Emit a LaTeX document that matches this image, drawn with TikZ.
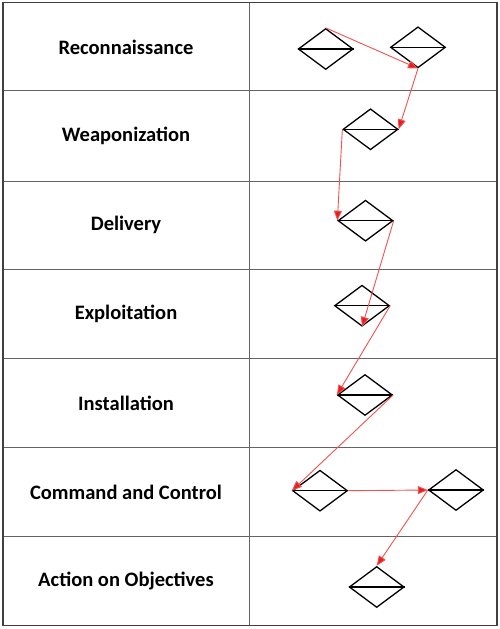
\documentclass[tikz,border=0pt]{standalone}
\usepackage{fontspec}
\setmainfont{Carlito}
\usetikzlibrary{arrows.meta,shapes.geometric}
\definecolor{arrowred}{RGB}{244,80,80}
\definecolor{tipred}{RGB}{230,30,30}
\definecolor{gridgray}{RGB}{100,100,100}
\tikzset{
  dia/.style={draw=black, line width=1.3bp, shape=diamond, inner sep=0pt, minimum width=55bp, minimum height=41bp},
  flow/.style={draw=arrowred, line width=0.9bp, -{Triangle[length=10bp,width=8bp,fill=tipred]}},
  stage/.style={font=\bfseries\fontsize{20.6}{24}\selectfont, anchor=center}
}
\begin{document}
\begin{tikzpicture}[x=1bp,y=-1bp]
\useasboundingbox (0,0) rectangle (500,629);
% grid
\foreach \yy in {91,181,269.5,358.3,447.7,536}
  \draw[gridgray, line width=1bp] (3,\yy) -- (497,\yy);
\draw[gridgray, line width=1bp] (249.5,2.7) -- (249.5,625.7);
\draw[black!75, line width=1.5bp] (3,2.7) rectangle (497,625.7);
% labels
\node[stage] (t1) at (126,47) {Reconnaissance};
\node[stage] (t2) at (126,136) {Weaponization};
\node[stage] (t3) at (126,225.3) {Delivery};
\node[stage] (t4) at (126,314) {Exploitation};
\node[stage] (t5) at (126,403) {Installation};
\node[stage] (t6) at (126,492) {Command and Control};
\node[stage] (t7) at (126,581) {Action on Objectives};
% diamonds
\node[dia] (d1) at (325.7,49) {};
\node[dia] (d2) at (418,47.3) {};
\node[dia] (d3) at (370.5,129.3) {};
\node[dia] (d4) at (365.5,220.7) {};
\node[dia] (d5) at (362,305.7) {};
\node[dia] (d6) at (365,395) {};
\node[dia] (d7) at (320,490.7) {};
\node[dia] (d8) at (456,490) {};
\node[dia] (d9) at (376.7,587) {};
\foreach \d in {d1,d2,d3,d4,d5,d6,d7,d8,d9}
  \draw[black, line width=1.3bp] (\d.west) -- (\d.east);
% arrows
\draw[flow] (d1.north) -- (d2.south);
\draw[flow] (d2.south) -- (d3.east);
\draw[flow] (d3.west) -- (d4.west);
\draw[flow] (d4.east) -- (d5.south);
\draw[flow] (d5.east) -- (d6.west);
\draw[flow] (d6.east) -- (d7.west);
\draw[flow] (d7.east) -- (d8.west);
\draw[flow] (d8.west) -- (d9.north);
\end{tikzpicture}
\end{document}
